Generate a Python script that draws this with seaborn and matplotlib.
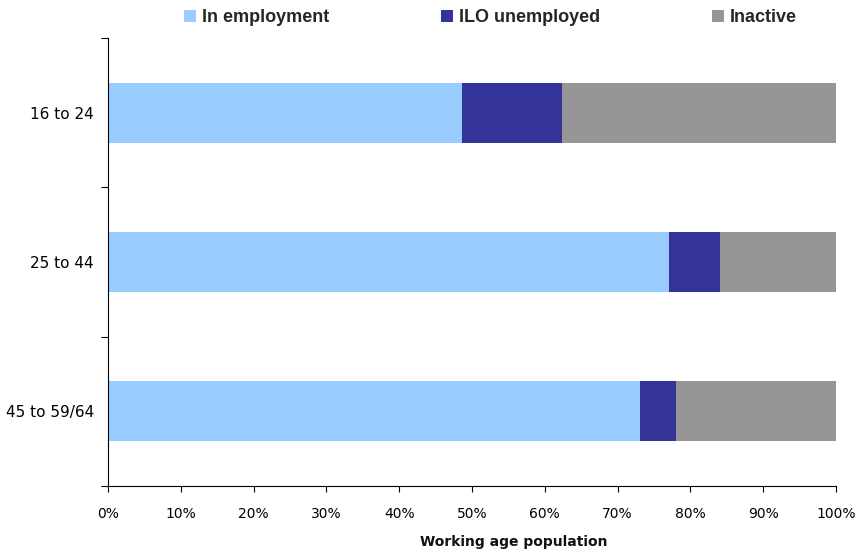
import matplotlib
matplotlib.use("Agg")
import matplotlib.pyplot as plt
import seaborn as sns
import numpy as np
import pandas as pd
from matplotlib.ticker import FixedLocator, PercentFormatter

categories = ["16 to 24", "25 to 44", "45 to 59/64"]
in_employment = [48.6, 77.1, 73.1]
ilo_unemployed = [13.7, 7.0, 4.9]
inactive = [37.7, 15.9, 22.0]
series_names = ["In employment", "ILO unemployed", "Inactive"]
colors = ["#99ccff", "#333399", "#969696"]

sns.set_theme(style="white")
plt.rcParams["font.family"] = ["DejaVu Sans"]

emp = np.array(in_employment)
unemp = np.array(ilo_unemployed)
inact = np.array(inactive)
df = pd.DataFrame({
    "cat": categories,
    "total": emp + unemp + inact,
    "emp_unemp": emp + unemp,
    "emp": emp,
})

fig = plt.figure(figsize=(8.56, 5.54), dpi=100)
ax = fig.add_axes([108 / 856, 1 - 486 / 554, (836 - 108) / 856, (486 - 38) / 554])

for col, color, name in zip(["total", "emp_unemp", "emp"], colors[::-1], series_names[::-1]):
    sns.barplot(data=df, x=col, y="cat", color=color, width=0.4, ax=ax,
                saturation=1, label=name, edgecolor="none", linewidth=0)

ax.set_xlim(0, 100)
ax.set_ylim(2.5, -0.5)
ax.xaxis.set_major_locator(FixedLocator(np.arange(0, 101, 10)))
ax.xaxis.set_major_formatter(PercentFormatter(decimals=0))
ax.yaxis.set_minor_locator(FixedLocator([-0.5, 0.5, 1.5, 2.5]))
ax.tick_params(axis="y", which="major", length=0, pad=10, labelsize=11, colors="#000000")
ax.tick_params(axis="y", which="minor", length=5, width=0.8, direction="out", left=True, color="#000000")
ax.tick_params(axis="x", which="major", length=4, width=0.8, direction="out", bottom=True,
               labelsize=10, pad=11, colors="#000000")
ax.set_ylabel("")
ax.set_xlabel("Working age population", fontsize=10, fontweight="bold", color="#111111")
ax.xaxis.set_label_coords((514 - 108) / 728, (486 - 535) / 448)
for s in ["top", "right"]:
    ax.spines[s].set_visible(False)
for s in ["left", "bottom"]:
    ax.spines[s].set_color("#000000")
    ax.spines[s].set_linewidth(0.8)

if ax.get_legend() is not None:
    ax.get_legend().remove()
handles, labels = ax.get_legend_handles_labels()
order = [labels.index(n) for n in series_names]
fig.legend([handles[i] for i in order], [labels[i] for i in order],
           loc="center", bbox_to_anchor=(490.5 / 856, 1 - 17.5 / 554), ncol=3, frameon=False,
           handlelength=0.67, handleheight=0.67, handletextpad=0.33, columnspacing=6.2,
           borderpad=0, borderaxespad=0,
           prop={"family": ["Liberation Sans", "DejaVu Sans"], "size": 13, "weight": "bold"})

fig.savefig("out.png", dpi=100)
